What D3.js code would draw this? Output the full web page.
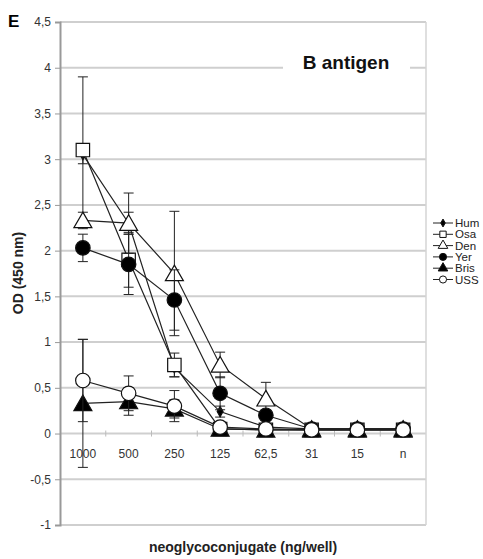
<!DOCTYPE html>
<html>
<head>
<meta charset="utf-8">
<script src="https://cdn.jsdelivr.net/npm/d3@7"></script>
<style>
  body { margin: 0; background: #fff; }
  text { font-family: "Liberation Sans", Arial, sans-serif; }
</style>
</head>
<body>
<div id="chart"></div>
<script>
// data
const categories = ["1000", "500", "250", "125", "62,5", "31", "15", "n"];
const yTicks = [-1, -0.5, 0, 0.5, 1, 1.5, 2, 2.5, 3, 3.5, 4, 4.5];
// legend names are cut at the picture edge in the source
const seriesNames = ["Hum", "Osa", "Den", "Yer", "Bris", "USS"];

const hum = [3.05, 2.3, 0.72, 0.24, 0.07, 0.05, 0.05, 0.05];
const humErr = [0.1, 0.12, 0.1, 0.06, 0.03, 0.06, 0.06, 0.06];
const osa = [3.1, 1.9, 0.75, 0.05, 0.04, 0.04, 0.04, 0.04];
const osaErr = [0.8, 0.3, 0.13, 0.03, 0.02, 0.02, 0.02, 0.02];
const den = [2.33, 2.3, 1.75, 0.75, 0.38, 0.05, 0.05, 0.05];
const denErr = [0.09, 0.33, 0.68, 0.14, 0.18, 0.03, 0.03, 0.03];
const yer = [2.03, 1.85, 1.46, 0.44, 0.2, 0.05, 0.05, 0.05];
const yerErr = [0.15, 0.33, 0.33, 0.18, 0.06, 0.03, 0.03, 0.03];
const bris = [0.33, 0.35, 0.27, 0.05, 0.04, 0.04, 0.04, 0.04];
const brisErr = [0.7, 0.15, 0.1, 0.03, 0.02, 0.02, 0.02, 0.02];
const uss = [0.58, 0.44, 0.3, 0.07, 0.05, 0.04, 0.04, 0.04];
const ussErr = [0.45, 0.19, 0.17, 0.05, 0.03, 0.02, 0.02, 0.02];

const width = 483, height = 559;
const plotLeft = 60, plotRight = 426, plotTop = 22, plotBottom = 525;

const series = [
  { name: seriesNames[0], values: hum, err: humErr, shape: "diamond", fill: "#000", size: 30 },
  { name: seriesNames[1], values: osa, err: osaErr, shape: "square", fill: "#fff", size: 180 },
  { name: seriesNames[2], values: den, err: denErr, shape: "triangle", fill: "#fff", size: 140 },
  { name: seriesNames[3], values: yer, err: yerErr, shape: "circle", fill: "#000", size: 165 },
  { name: seriesNames[4], values: bris, err: brisErr, shape: "triangle", fill: "#000", size: 140 },
  { name: seriesNames[5], values: uss, err: ussErr, shape: "circle", fill: "#fff", size: 165 }
];
const shapes = {
  diamond: d3.symbolDiamond, square: d3.symbolSquare,
  triangle: d3.symbolTriangle, circle: d3.symbolCircle
};

const svg = d3.select("#chart").append("svg")
  .attr("width", width)
  .attr("height", height);

const xScale = d3.scaleBand().domain(categories).range([plotLeft, plotRight]);
const yScale = d3.scaleLinear().domain([-1, 4.5]).range([plotBottom, plotTop]);

// gridlines
svg.append("g")
  .selectAll("line")
  .data(yTicks)
  .enter()
  .append("line")
  .attr("x1", plotLeft).attr("x2", plotRight)
  .attr("y1", d => yScale(d)).attr("y2", d => yScale(d))
  .attr("stroke", "#cfcfcf")
  .attr("stroke-width", 2);

// right border
svg.append("line")
  .attr("x1", plotRight).attr("x2", plotRight)
  .attr("y1", plotTop).attr("y2", plotBottom)
  .attr("stroke", "#d4d4d4").attr("stroke-width", 1.5);

// y axis
const yAxis = d3.axisLeft(yScale)
  .tickValues(yTicks)
  .tickSize(5)
  .tickFormat(d => String(d).replace(".", ","));
const gy = svg.append("g")
  .attr("transform", "translate(" + plotLeft + ",0)")
  .call(yAxis);
gy.select(".domain").attr("stroke", "#999").attr("stroke-width", 2);
gy.selectAll(".tick line").attr("stroke", "#999");
gy.selectAll(".tick text")
  .attr("font-size", "12px")
  .attr("fill", "#333")
  .attr("x", -9);

// x axis on the zero line, ticks between categories
const zeroY = yScale(0);
svg.append("g")
  .selectAll("line")
  .data(categories.slice(1))
  .enter()
  .append("line")
  .attr("x1", d => xScale(d)).attr("x2", d => xScale(d))
  .attr("y1", zeroY - 3).attr("y2", zeroY + 3)
  .attr("stroke", "#bbb");

svg.append("g")
  .selectAll("text")
  .data(categories)
  .enter()
  .append("text")
  .attr("x", d => xScale(d) + xScale.bandwidth() / 2)
  .attr("y", zeroY + 24)
  .attr("text-anchor", "middle")
  .attr("font-size", "12px")
  .attr("fill", "#333")
  .text(d => d);

// title box
svg.append("rect")
  .attr("x", 283).attr("y", 46)
  .attr("width", 127).attr("height", 34)
  .attr("fill", "#fff");
svg.append("text")
  .attr("x", 346).attr("y", 69)
  .attr("text-anchor", "middle")
  .attr("font-size", "19px")
  .attr("font-weight", "bold")
  .attr("fill", "#111")
  .text("B antigen");

const xc = (d, i) => xScale(categories[i]) + xScale.bandwidth() / 2;
const line = d3.line().x(xc).y(d => yScale(d));

// lines, then error bars, then markers, per series
series.forEach(s => {
  const g = svg.append("g");
  g.append("path")
    .datum(s.values)
    .attr("d", line)
    .attr("fill", "none")
    .attr("stroke", "#222")
    .attr("stroke-width", 1.2);

  const eb = g.selectAll(".err")
    .data(s.values)
    .enter()
    .append("g");
  eb.append("line")
    .attr("x1", xc).attr("x2", xc)
    .attr("y1", (d, i) => yScale(d + s.err[i]))
    .attr("y2", (d, i) => yScale(d - s.err[i]))
    .attr("stroke", "#222");
  [1, -1].forEach(sign => {
    eb.append("line")
      .attr("x1", (d, i) => xc(d, i) - 5)
      .attr("x2", (d, i) => xc(d, i) + 5)
      .attr("y1", (d, i) => yScale(d + sign * s.err[i]))
      .attr("y2", (d, i) => yScale(d + sign * s.err[i]))
      .attr("stroke", "#222");
  });

  g.selectAll(".pt")
    .data(s.values)
    .enter()
    .append("path")
    .attr("d", d3.symbol().type(shapes[s.shape]).size(s.size))
    .attr("transform", (d, i) => "translate(" + xc(d, i) + "," + (yScale(d) + (s.shape === "triangle" ? 2 : 0)) + ")")
    .attr("fill", s.fill)
    .attr("stroke", "#111")
    .attr("stroke-width", 1.2);
});

// legend
const legend = svg.append("g")
  .selectAll("g")
  .data(series)
  .enter()
  .append("g")
  .attr("transform", (d, i) => "translate(433," + (223 + i * 11.3) + ")");
legend.append("line")
  .attr("x1", 0).attr("x2", 20)
  .attr("stroke", "#222");
legend.append("path")
  .attr("d", d => d3.symbol().type(shapes[d.shape]).size(d.shape === "diamond" ? 18 : 40)())
  .attr("transform", "translate(10,0)")
  .attr("fill", d => d.fill)
  .attr("stroke", "#111");
legend.append("text")
  .attr("x", 22).attr("y", 4)
  .attr("font-size", "11.5px")
  .attr("fill", "#222")
  .text(d => d.name);

// labels
svg.append("text")
  .attr("x", 8).attr("y", 27)
  .attr("font-size", "17px")
  .attr("font-weight", "bold")
  .text("E");

svg.append("text")
  .attr("transform", "translate(23,273) rotate(-90)")
  .attr("text-anchor", "middle")
  .attr("font-size", "14px")
  .attr("font-weight", "bold")
  .attr("fill", "#222")
  .text("OD (450 nm)");

svg.append("text")
  .attr("x", 243).attr("y", 552)
  .attr("text-anchor", "middle")
  .attr("font-size", "14px")
  .attr("font-weight", "bold")
  .attr("fill", "#222")
  .text("neoglycoconjugate (ng/well)");
</script>
</body>
</html>
